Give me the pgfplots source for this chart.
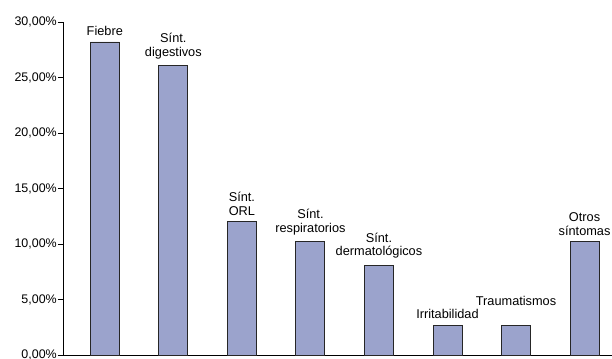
\documentclass[border=0pt]{standalone}
\usepackage{pgfplots}
\pgfplotsset{compat=1.18}
\usepackage{fontspec}
\setmainfont{Liberation Sans}
\definecolor{barfill}{RGB}{155,163,204}
\begin{document}
\begin{tikzpicture}
\begin{axis}[
  scale only axis, width=549bp, height=333bp,
  xmin=-0.61, xmax=7.4, ymin=0, ymax=30,
  axis x line=bottom, axis y line=left,
  axis line style={-, line width=0.9bp, black},
  xtick=\empty,
  ytick={0,5,10,15,20,25,30},
  yticklabels={{0,00\%},{5,00\%},{10,00\%},{15,00\%},{20,00\%},{25,00\%},{30,00\%}},
  tick align=outside, major tick length=5bp,
  tick style={black, line width=0.9bp},
  yticklabel style={font=\fontsize{12.5}{14}\selectfont, inner sep=1bp},
  ybar, bar width=29bp,
  clip=false,
  point meta=explicit symbolic,
  nodes near coords,
  nodes near coords style={align=center, font=\fontsize{12.8}{14}\selectfont, inner sep=1bp, yshift=5bp},
]
\addplot[fill=barfill, draw=black!85, line width=0.9bp] coordinates {
  (0,28.2) [Fiebre]
  (1,26.1) [{Sínt.\\digestivos}]
  (2,12.0) [{Sínt.\\ORL}]
  (3,10.2) [{Sínt.\\respiratorios}]
  (4,8.1) [{Sínt.\\dermatológicos}]
  (5,2.7) [Irritabilidad]
  (6,2.7) [{\raisebox{13bp}{Traumatismos}}]
  (7,10.2) [{Otros\\síntomas}]
};
\end{axis}
\pgfresetboundingbox
\path (-63bp,-4bp) rectangle (549bp,355bp);
\end{tikzpicture}
\end{document}
